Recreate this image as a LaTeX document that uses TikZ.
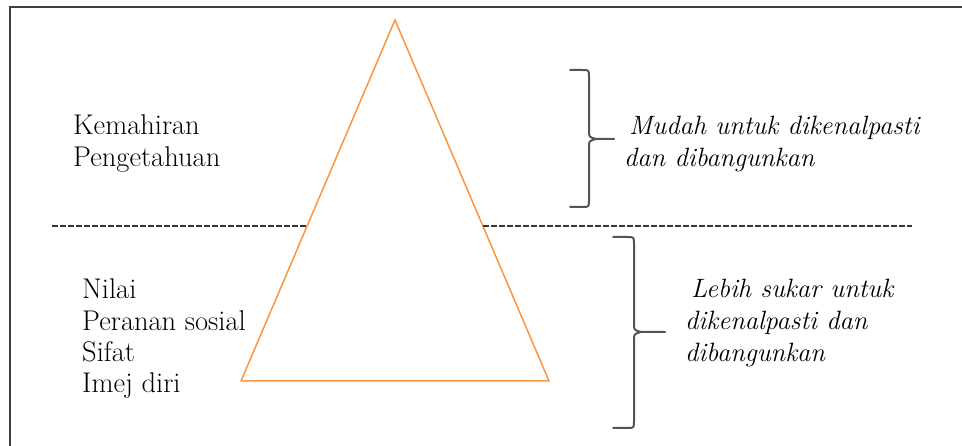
\documentclass[tikz,border=0pt]{standalone}
\usepackage{fontspec}
\definecolor{tri}{RGB}{247,150,70}
\definecolor{frame}{RGB}{64,64,64}
\definecolor{brace}{RGB}{85,85,85}
\begin{document}
\begin{tikzpicture}[x=1pt,y=-1pt,
  lbl/.style={anchor=base west,inner sep=0pt,font=\fontsize{28.5}{32}\selectfont},
  ilbl/.style={lbl,font=\fontsize{26.5}{32}\selectfont\itshape},
  bracestyle/.style={draw=brace,line width=2pt,line cap=round,line join=round},
  dash line/.style={draw=black!80,line width=1.5pt,dash pattern=on 6pt off 2pt}]
\clip (0,0) rectangle (962,446);
\fill[white] (0,0) rectangle (962,446);
% frame
\draw[frame,line width=2pt] (10,470) -- (10,7) -- (990,7);
% triangle
\coordinate (apex) at (395,20);
\coordinate (bl) at (241,381);
\coordinate (br) at (549,381);
\draw[tri,line width=1.5pt,line join=miter] (apex) -- (br) -- (bl) -- cycle;
% dashed line
\coordinate (d1) at (52,226);
\coordinate (d2) at (307,226);
\coordinate (d3) at (483,226);
\coordinate (d4) at (912,226);
\draw[dash line] (d1) -- (d2);
\draw[dash line] (d3) -- (d4);
% brace 1
\draw[bracestyle] (570,70) -- (582,70) .. controls (589,70) .. (589,77) -- (589,131)
  .. controls (589,137) .. (596,139) -- (614,139);
\draw[bracestyle] (596,139) .. controls (589,141) .. (589,147) -- (589,200)
  .. controls (589,207) .. (582,207) -- (570,207);
% brace 2
\draw[bracestyle] (613,237) -- (627,237) .. controls (634,237) .. (634,244) -- (634,324)
  .. controls (634,330) .. (641,332) -- (665,332);
\draw[bracestyle] (641,332) .. controls (634,334) .. (634,340) -- (634,421)
  .. controls (634,428) .. (627,428) -- (613,428);
% left texts
\node[lbl] (kem) at (73,135) {Kemahiran};
\node[lbl] (pen) at (73,167) {Pengetahuan};
\node[lbl] (nil) at (82,299) {Nilai};
\node[lbl] (per) at (82,331) {Peranan sosial};
\node[lbl] (sif) at (82,362) {Sifat};
\node[lbl] (ime) at (82,393) {Imej diri};
% right texts
\node[ilbl] (mud1) at (629,135) {Mudah untuk dikenalpasti};
\node[ilbl] (mud2) at (624,167) {dan dibangunkan};
\node[ilbl] (leb1) at (691,298) {Lebih sukar untuk};
\node[ilbl] (leb2) at (685,330) {dikenalpasti dan};
\node[ilbl] (leb3) at (685,362) {dibangunkan};
\end{tikzpicture}
\end{document}
